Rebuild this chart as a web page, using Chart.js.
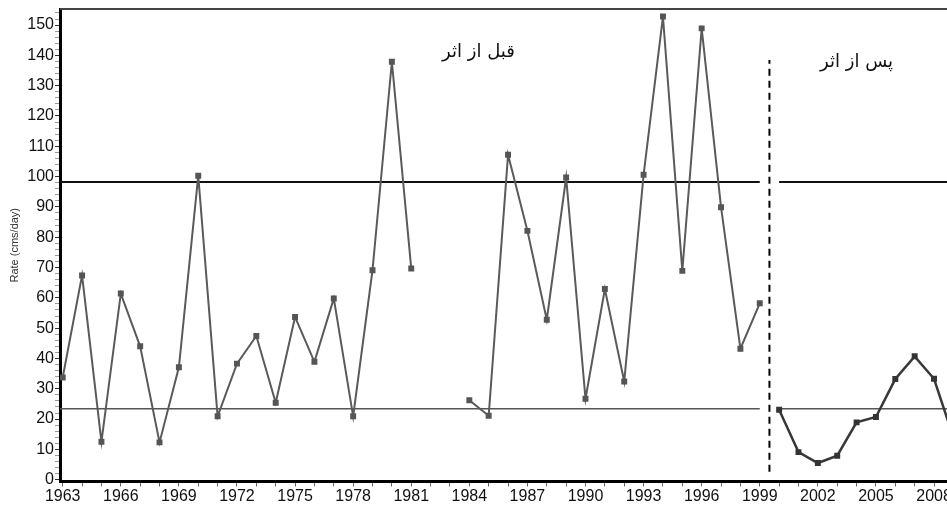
<!DOCTYPE html>
<html>
<head>
<meta charset="utf-8">
<script src="https://cdn.jsdelivr.net/npm/chart.js@4.4.1/dist/chart.umd.min.js"></script>
<style>
  html, body { margin: 0; padding: 0; background: #fff; }
  #wrap { width: 947px; height: 506px; position: relative; }
</style>
</head>
<body>
<div id="wrap"><canvas id="rateChart"></canvas></div>
<script>
// before the effect (1963-1999), gaps for 1982 and 1983
var yearsBefore = [1963, 1964, 1965, 1966, 1967, 1968, 1969, 1970, 1971, 1972,
                   1973, 1974, 1975, 1976, 1977, 1978, 1979, 1980, 1981, 1982,
                   1983, 1984, 1985, 1986, 1987, 1988, 1989, 1990, 1991, 1992,
                   1993, 1994, 1995, 1996, 1997, 1998, 1999];
var rateBefore = [33.7, 67.4, 12.5, 61.4, 44.0, 12.3, 37.1, 100.3, 20.9, 38.3,
                  47.4, 25.4, 53.7, 38.9, 59.8, 20.9, 69.1, 137.9, 69.7, null,
                  null, 26.2, 21.1, 107.2, 82.1, 52.8, 99.7, 26.7, 62.9, 32.4,
                  100.6, 152.8, 68.9, 148.9, 89.9, 43.2, 58.2];

// after the effect
var yearsAfter = [2000, 2001, 2002, 2003, 2004, 2005, 2006, 2007, 2008, 2009];
var rateAfter = [23.1, 9.1, 5.5, 7.9, 18.9, 20.7, 33.2, 40.7, 33.3, 14.0];

var upperLimit = 98.2;
var lowerLimit = 23.4;
var dividerYear = 1999.5;
var dividerRange = [2.6, 138.5];
var labelEvery = 3;

var xMin = 1962.86, xMax = 2008.67;
var yMin = -0.6, yMax = 155.3;

var textLabels = [
  { text: 'قبل از اثر', x: 1984.47, y: 141.1 },
  { text: 'پس از اثر', x: 2004.0, y: 137.8 }
];

function toPoints(xs, ys) {
  return xs.map(function (x, i) { return { x: x, y: ys[i] }; });
}

function limitLine(v) {
  return [
    { x: xMin, y: v }, { x: 1999, y: v },
    { x: dividerYear, y: null },
    { x: 2000, y: v }, { x: xMax, y: v }
  ];
}

var frame = {
  id: 'frame',
  afterDraw: function (chart) {
    var c = chart.ctx, a = chart.chartArea;
    var xs = chart.scales.x, ys = chart.scales.y;
    c.save();
    c.strokeStyle = '#444';
    c.lineWidth = 2;
    c.beginPath();
    c.moveTo(a.left, a.top);
    c.lineTo(a.right, a.top);
    c.stroke();

    c.fillStyle = '#111';
    c.font = '18px "DejaVu Sans", "Liberation Serif", serif';
    c.textAlign = 'center';
    c.textBaseline = 'middle';
    textLabels.forEach(function (t) {
      c.fillText(t.text, xs.getPixelForValue(t.x), ys.getPixelForValue(t.y));
    });
    c.restore();
  }
};

var ctx = document.getElementById('rateChart').getContext('2d');
var myChart = new Chart(ctx, {
  type: 'line',
  data: {
    datasets: [
      {
        data: toPoints(yearsBefore, rateBefore),
        borderColor: '#5a5a5a',
        backgroundColor: '#555',
        borderWidth: 2,
        pointStyle: 'rect',
        pointRadius: 4.2,
        pointBorderWidth: 0,
        spanGaps: false
      },
      {
        data: toPoints(yearsAfter, rateAfter),
        borderColor: '#383838',
        backgroundColor: '#333',
        borderWidth: 2.5,
        pointStyle: 'rect',
        pointRadius: 4.2,
        pointBorderWidth: 0
      },
      {
        data: [{ x: dividerYear, y: dividerRange[0] }, { x: dividerYear, y: dividerRange[1] }],
        borderColor: '#000',
        borderWidth: 2,
        borderDash: [7, 5],
        pointRadius: 0
      },
      {
        data: limitLine(upperLimit),
        borderColor: '#111',
        borderWidth: 2,
        pointRadius: 0,
        spanGaps: false
      },
      {
        data: limitLine(lowerLimit),
        borderColor: '#555',
        borderWidth: 1.5,
        pointRadius: 0,
        spanGaps: false
      }
    ]
  },
  options: {
    responsive: true,
    maintainAspectRatio: false,
    animation: false,
    layout: { autoPadding: false, padding: { top: 9, right: 0, left: 0, bottom: 0 } },
    plugins: { legend: { display: false }, tooltip: { enabled: false } },
    elements: { line: { tension: 0 } },
    scales: {
      x: {
        type: 'linear',
        min: xMin,
        max: xMax,
        grid: { drawOnChartArea: false, tickLength: 5, color: '#666', tickWidth: 1 },
        border: { color: '#000', width: 3 },
        ticks: {
          stepSize: 1,
          autoSkip: false,
          includeBounds: false,
          maxRotation: 0,
          padding: 0,
          color: '#111',
          font: { family: '"Liberation Sans", Arial, sans-serif', size: 16 },
          callback: function (v) {
            return Math.round(v - 1963) % labelEvery === 0 ? String(Math.round(v)) : '';
          }
        },
        afterFit: function (s) {
          s.height = 24.5;
          s.paddingLeft = 0;
          s.paddingRight = 0;
        }
      },
      y: {
        min: yMin,
        max: yMax,
        grid: {
          drawOnChartArea: false,
          tickLength: 5,
          color: function (c) { return c.tick && Math.round(c.tick.value) % 10 === 0 ? '#333' : '#999'; }
        },
        border: { color: '#000', width: 3 },
        title: {
          display: true,
          text: 'Rate (cms/day)',
          color: '#333',
          padding: { top: 8, bottom: 0 },
          font: { family: '"Liberation Sans", Arial, sans-serif', size: 11 }
        },
        ticks: {
          stepSize: 2,
          autoSkip: false,
          includeBounds: false,
          padding: 1,
          color: '#111',
          font: { family: '"Liberation Sans", Arial, sans-serif', size: 16 },
          callback: function (v) {
            return Math.round(v) % 10 === 0 ? String(Math.round(v)) : '';
          }
        },
        afterFit: function (s) {
          s.width = 60;
          s.paddingTop = 0;
          s.paddingBottom = 0;
        }
      }
    }
  },
  plugins: [frame]
});
</script>
</body>
</html>
